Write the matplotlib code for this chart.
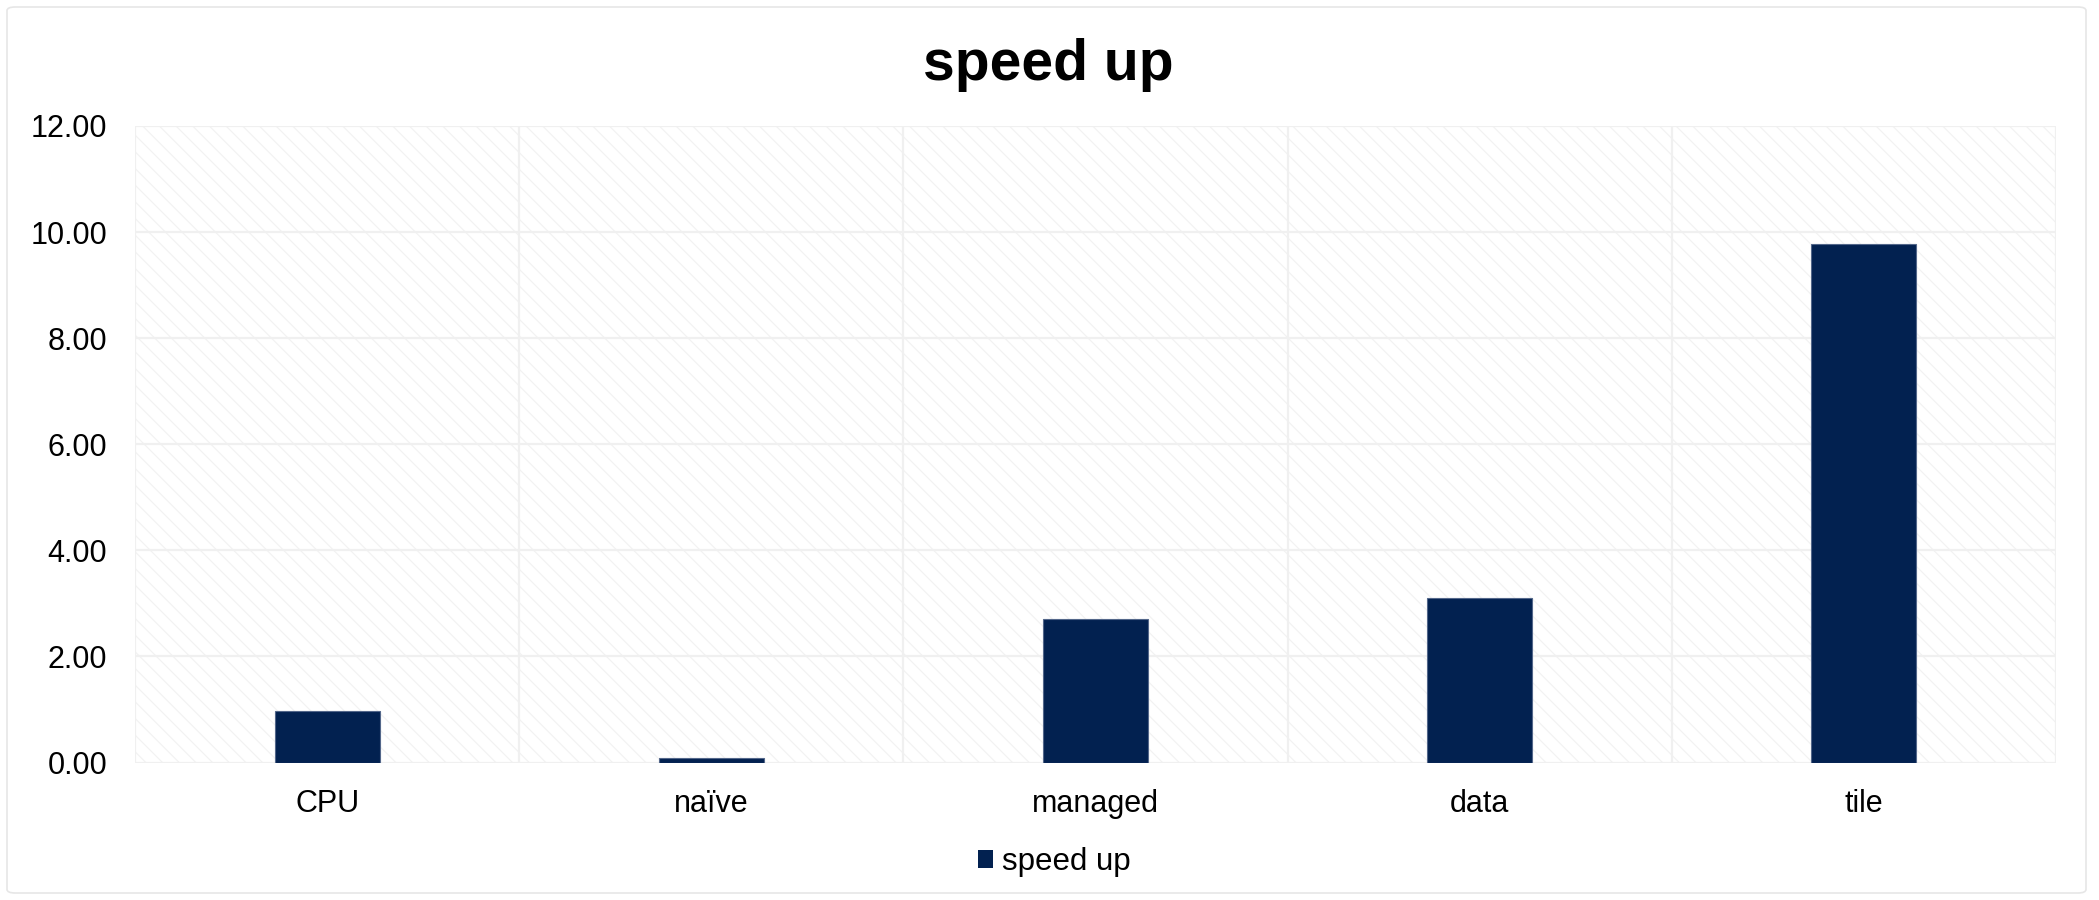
import matplotlib
matplotlib.use("Agg")
import matplotlib.pyplot as plt
from matplotlib.patches import Rectangle, FancyBboxPatch

# Speed-up of each implementation
categories = ["CPU", "naïve", "managed", "data", "tile"]
speed_up = [0.97, 0.09, 2.70, 3.11, 9.78]
series_name = "speed up"
y_ticks = [0, 2, 4, 6, 8, 10, 12]

BAR_COLOR = "#022150"
GRID_COLOR = "#F0F0F0"

plt.rcParams["font.family"] = ["Liberation Sans", "DejaVu Sans"]
plt.rcParams["hatch.linewidth"] = 0.8

fig = plt.figure(figsize=(20.99, 9.0), dpi=100)
fig.patch.set_facecolor("white")

# Outer chart border
fig.patches.append(FancyBboxPatch((7 / 2099, 7 / 900), 2079 / 2099, 886 / 900,
                                  boxstyle="round,pad=0,rounding_size=0.004",
                                  transform=fig.transFigure, facecolor="none",
                                  edgecolor="#E6E6E6", linewidth=1.2, zorder=-1))

ax = fig.add_axes([135 / 2099, 1 - 762.5 / 900, (2056 - 135) / 2099, (762.5 - 125.9) / 900])
ax.set_facecolor("white")
ax.set_zorder(1)

# Faint diagonal hatch across the plot area
ax.add_patch(Rectangle((0, 0), 1, 1, transform=ax.transAxes, facecolor="white",
                       edgecolor="#F2F2F2", hatch="\\\\", linewidth=0, zorder=0))

x = list(range(len(categories)))
ax.bar(x, speed_up, width=0.273, color=BAR_COLOR, edgecolor="#53678A",
       linewidth=0.8, zorder=3)

ax.set_xlim(-0.5, len(categories) - 0.5)
ax.set_ylim(0, 12)

# Gridlines: horizontal at each tick, vertical between categories
for yv in y_ticks:
    ax.axhline(yv, color=GRID_COLOR, linewidth=1.6, zorder=1)
for k in range(len(categories) + 1):
    ax.axvline(k - 0.5, color=GRID_COLOR, linewidth=1.6, zorder=1)

ax.set_yticks(y_ticks)
ax.set_yticklabels([f"{v:.2f}" for v in y_ticks])
ax.set_xticks(x)
ax.set_xticklabels(categories)
ax.tick_params(axis="y", length=0, pad=20, labelsize=22)
ax.tick_params(axis="x", length=0, pad=19, labelsize=22)
for s in ax.spines.values():
    s.set_visible(False)

fig.text(0.4995, 1 - 79.5 / 900, "speed up", ha="center", va="baseline",
         fontsize=41, fontweight="bold")

handle = Rectangle((0, 0), 1, 1, facecolor=BAR_COLOR, edgecolor="none")
fig.legend([handle], [series_name], loc="center",
           bbox_to_anchor=(1054 / 2099, 1 - 862 / 900), frameon=False,
           fontsize=22.5, handlelength=0.48, handleheight=0.48,
           handletextpad=0.3, borderpad=0)

fig.savefig("out.png", dpi=100, facecolor="white")
